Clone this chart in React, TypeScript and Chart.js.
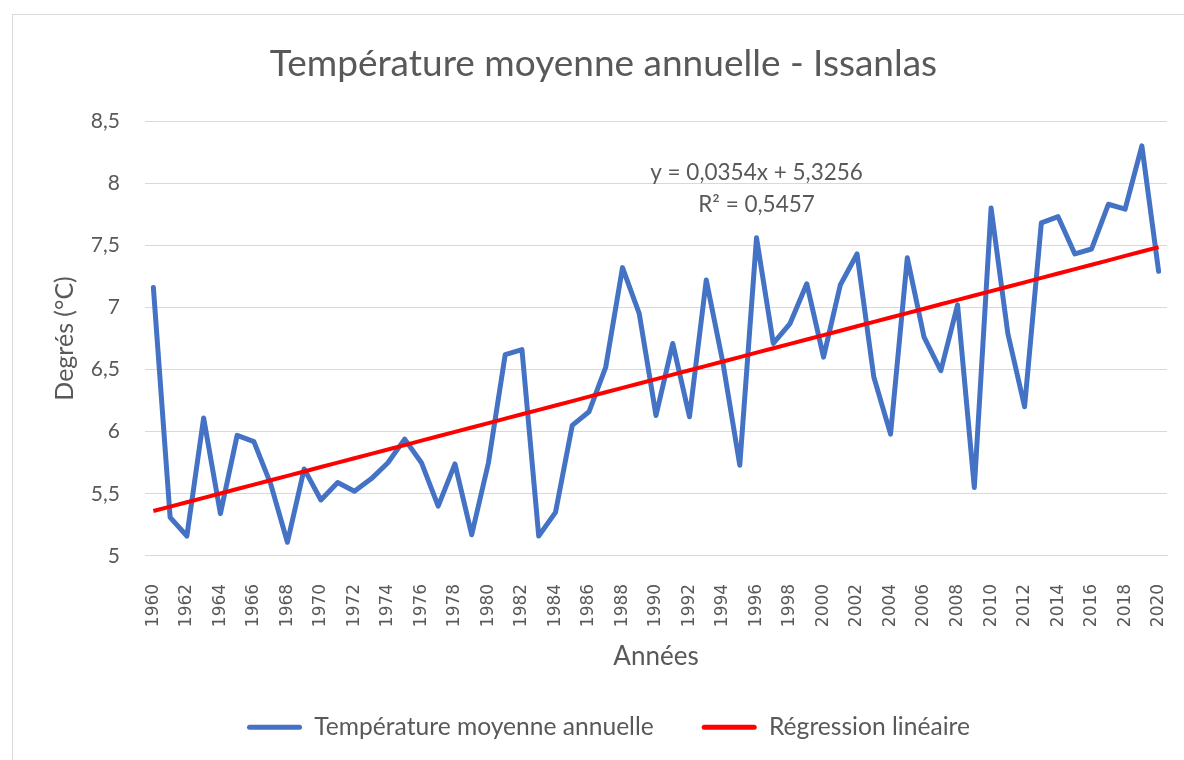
import React, { useEffect, useRef } from "react";
import { Chart, registerables } from "chart.js";

Chart.register(...registerables);

const years: string[] = [
  "1960", "1961", "1962", "1963", "1964", "1965", "1966", "1967", "1968", "1969",
  "1970", "1971", "1972", "1973", "1974", "1975", "1976", "1977", "1978", "1979",
  "1980", "1981", "1982", "1983", "1984", "1985", "1986", "1987", "1988", "1989",
  "1990", "1991", "1992", "1993", "1994", "1995", "1996", "1997", "1998", "1999",
  "2000", "2001", "2002", "2003", "2004", "2005", "2006", "2007", "2008", "2009",
  "2010", "2011", "2012", "2013", "2014", "2015", "2016", "2017", "2018", "2019",
  "2020",
];

const temperatures: number[] = [
  7.16, 5.31, 5.16, 6.11, 5.34, 5.97, 5.92, 5.58, 5.11, 5.70,
  5.45, 5.59, 5.52, 5.62, 5.75, 5.94, 5.75, 5.40, 5.74, 5.17,
  5.75, 6.62, 6.66, 5.16, 5.35, 6.05, 6.16, 6.52, 7.32, 6.95,
  6.13, 6.71, 6.12, 7.22, 6.55, 5.73, 7.56, 6.71, 6.87, 7.19,
  6.60, 7.18, 7.43, 6.44, 5.98, 7.40, 6.76, 6.49, 7.02, 5.55,
  7.80, 6.79, 6.20, 7.68, 7.73, 7.43, 7.47, 7.83, 7.79, 8.30,
  7.29,
];

// Trend line coefficients as displayed on the chart (x = 1 for the first year)
const trendSlope = 0.0354;
const trendIntercept = 5.3256;
const rSquared = "0,5457";

const yTicks: number[] = [5, 5.5, 6, 6.5, 7, 7.5, 8, 8.5];

const seriesLabels = ["Température moyenne annuelle", "Régression linéaire"];
const titleText = "Température moyenne annuelle - Issanlas";
const xTitle = "Années";
const yTitle = "Degrés (°C)";

const fmt = (v: number) => String(v).replace(".", ",");

const trendValues = years.map((_, i) => trendSlope * (i + 1) + trendIntercept);

const GREY = "#595959";
const GRID = "#d9d9d9";
const FONT = "Lato, 'Noto Sans', sans-serif";

const equationPlugin = {
  id: "equationText",
  afterDatasetsDraw(chart: any) {
    const { ctx, scales } = chart;
    const x = scales.x.getPixelForValue(36);
    const y1 = scales.y.getPixelForValue(8.085);
    const y2 = scales.y.getPixelForValue(7.825);
    ctx.save();
    ctx.fillStyle = GREY;
    ctx.font = `22.5px ${FONT}`;
    ctx.textAlign = "center";
    ctx.textBaseline = "middle";
    ctx.fillText(
      `y = ${fmt(trendSlope)}x + ${fmt(trendIntercept)}`,
      x,
      y1
    );
    ctx.fillText(`R² = ${rSquared}`, x, y2);
    ctx.restore();
  },
};

const legendShiftPlugin = {
  id: "legendShift",
  afterLayout(chart: any) {
    const lg = chart.legend;
    if (lg) {
      lg.left += 5;
      lg.right += 5;
    }
  },
};

export default function App() {
  const canvasRef = useRef<HTMLCanvasElement | null>(null);

  useEffect(() => {
    if (!canvasRef.current) return;
    const chart = new Chart(canvasRef.current, {
      type: "line",
      data: {
        labels: years,
        datasets: [
          {
            label: seriesLabels[0],
            data: temperatures,
            borderColor: "#4472C4",
            backgroundColor: "#4472C4",
            borderWidth: 5,
            pointRadius: 0,
            tension: 0,
            borderCapStyle: "round",
            borderJoinStyle: "round",
            order: 2,
          },
          {
            label: seriesLabels[1],
            data: trendValues,
            borderColor: "#FF0000",
            backgroundColor: "#FF0000",
            borderWidth: 4,
            pointRadius: 0,
            tension: 0,
            order: 1,
          },
        ],
      },
      options: {
        animation: false,
        responsive: true,
        maintainAspectRatio: false,
        layout: { padding: { left: 40, right: 17, top: 0, bottom: 10.5 } },
        plugins: {
          tooltip: { enabled: false },
          title: {
            display: true,
            text: titleText,
            color: GREY,
            font: { family: FONT, size: 37, weight: "normal" },
            padding: { top: 42, bottom: 34.6 },
          },
          legend: {
            position: "bottom",
            labels: {
              color: GREY,
              font: { family: FONT, size: 24.6 },
              boxWidth: 55,
              boxHeight: 5,
              padding: 48,
              useBorderRadius: true,
              borderRadius: 2.5,
              generateLabels: (c: any) =>
                c.data.datasets.map((ds: any, i: number) => ({
                  text: ds.label,
                  fillStyle: ds.borderColor,
                  strokeStyle: ds.borderColor,
                  lineWidth: 0,
                  hidden: false,
                  datasetIndex: i,
                  fontColor: GREY,
                  borderRadius: 2.5,
                })),
            },
          },
        },
        scales: {
          x: {
            type: "category",
            offset: true,
            grid: { display: false },
            border: { display: true, color: GRID, width: 1 },
            ticks: {
              autoSkip: false,
              maxRotation: 90,
              minRotation: 90,
              padding: 20,
              color: GREY,
              font: { family: "'DejaVu Sans', sans-serif", size: 17 },
              callback: (_v: any, i: number) => (i % 2 === 0 ? years[i] : ""),
            },
            title: {
              display: true,
              text: xTitle,
              color: GREY,
              font: { family: FONT, size: 26 },
              padding: { top: 0, bottom: -5 },
            },
            afterFit: (scale: any) => {
              scale.height = 111;
              scale.paddingLeft = 0;
              scale.paddingRight = 0;
            },
          },
          y: {
            min: 5,
            max: 8.5,
            afterBuildTicks: (scale: any) => {
              scale.ticks = yTicks.map((v) => ({ value: v }));
            },
            grid: { color: GRID, lineWidth: 1, drawTicks: false },
            border: { display: false },
            ticks: {
              padding: 25,
              color: GREY,
              font: { family: FONT, size: 21 },
              callback: (v: any) => fmt(Number(v)),
            },
            title: {
              display: true,
              text: yTitle,
              color: GREY,
              font: { family: FONT, size: 25 },
              padding: { top: 10, bottom: 0 },
            },
            afterFit: (scale: any) => {
              scale.width = 105;
            },
          },
        },
      },
      plugins: [equationPlugin, legendShiftPlugin],
    });
    return () => chart.destroy();
  }, []);

  return (
    <div
      style={{
        position: "absolute",
        left: 0,
        top: 0,
        width: 1184,
        height: 760,
        overflow: "hidden",
        background: "#ffffff",
      }}
    >
      <div
        style={{
          position: "absolute",
          left: 12,
          top: 14,
          width: 1300,
          height: 800,
          border: `1px solid ${GRID}`,
          boxSizing: "border-box",
        }}
      />
      <canvas
        ref={canvasRef}
        style={{ position: "absolute", left: 0, top: 0, width: 1184, height: 760 }}
      />
    </div>
  );
}
